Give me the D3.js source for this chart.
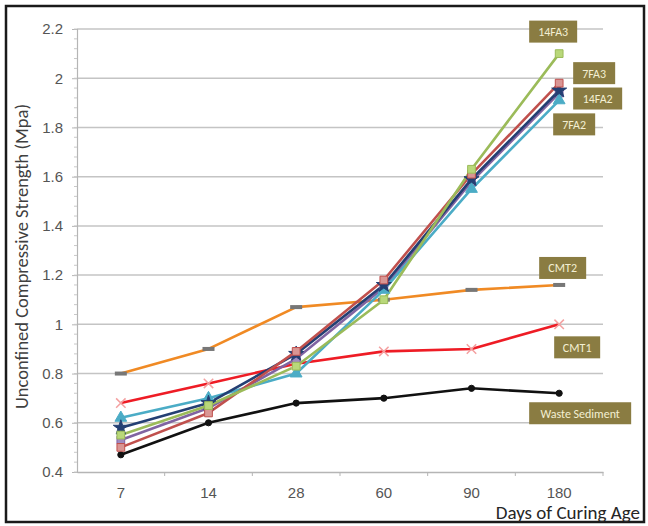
<!DOCTYPE html>
<html><head><meta charset="utf-8">
<script src="https://cdn.jsdelivr.net/npm/d3@7/dist/d3.min.js"></script>
<style>body{margin:0;background:#fff;}svg{display:block;font-family:Calibri,Carlito,"Liberation Sans",Arial,sans-serif;}</style>
</head><body><div id="chart"></div>
<script>
const days = ["7","14","28","60","90","180"];
const yTicks = [0.4,0.6,0.8,1,1.2,1.4,1.6,1.8,2,2.2];
const seriesNames = ["Waste Sediment","CMT2","CMT1","Purple","7FA2","14FA2","7FA3","14FA3"];
const wasteSediment = [0.47,0.60,0.68,0.70,0.74,0.72];
const cmt2 = [0.80,0.90,1.07,1.10,1.14,1.16];
const cmt1 = [0.68,0.76,0.84,0.89,0.90,1.00];
const fa1 = [0.53,0.66,0.86,1.15,1.58,1.94];
const fa7_2 = [0.62,0.70,0.80,1.14,1.55,1.91];
const fa14_2 = [0.58,0.68,0.88,1.16,1.59,1.95];
const fa7_3 = [0.50,0.64,0.89,1.18,1.61,1.98];
const fa14_3 = [0.55,0.67,0.83,1.10,1.63,2.10];

const W=648,H=526;
const m={left:77,right:45,top:29,bottom:54};
const svg=d3.select("#chart").append("svg").attr("width",W).attr("height",H);
svg.append("rect").attr("x",6).attr("y",6).attr("width",638).attr("height",516)
  .attr("fill","#fff").attr("stroke","#1a1a1a").attr("stroke-width",2.5);

const x=d3.scaleBand().domain(days).range([m.left,W-m.right]);
const y=d3.scaleLinear().domain([0.4,2.2]).range([H-m.bottom,m.top]);

// gridlines
svg.append("g").selectAll("line").data(yTicks.slice(1)).join("line")
  .attr("x1",m.left).attr("x2",W-m.right).attr("y1",d=>y(d)).attr("y2",d=>y(d))
  .attr("stroke","#c4c4c4").attr("stroke-width",1.5);

// y axis
const yAxis=svg.append("g").attr("transform",`translate(${m.left},0)`)
  .call(d3.axisLeft(y).tickValues(yTicks).tickFormat(d=>d3.format("")(+d.toFixed(1))).tickSize(5).tickPadding(9));
yAxis.select(".domain").attr("stroke","#b5b5b5").attr("stroke-width",1.2);
yAxis.selectAll(".tick line").attr("stroke","#b5b5b5");
yAxis.selectAll("text").attr("fill","#555").attr("font-size",15);
const minor=d3.range(0.4,2.2001,0.04);
svg.append("g").selectAll("line").data(minor).join("line")
  .attr("x1",m.left-3).attr("x2",m.left).attr("y1",d=>y(d)).attr("y2",d=>y(d))
  .attr("stroke","#c8c8c8");

// x axis
const xAxis=svg.append("g").attr("transform",`translate(0,${H-m.bottom})`)
  .call(d3.axisBottom(x).tickSize(0).tickPadding(15));
xAxis.select(".domain").attr("stroke","#b5b5b5").attr("stroke-width",1.5);
xAxis.selectAll("text").attr("fill","#555").attr("font-size",15);
svg.append("g").selectAll("line").data(days.slice(1)).join("line")
  .attr("x1",d=>x(d)).attr("x2",d=>x(d)).attr("y1",H-m.bottom).attr("y2",H-m.bottom+4)
  .attr("stroke","#b5b5b5");
svg.append("line").attr("x1",W-m.right).attr("x2",W-m.right).attr("y1",H-m.bottom).attr("y2",H-m.bottom+4).attr("stroke","#b5b5b5");

// titles
svg.append("text").attr("transform",`translate(28,${(m.top+H-m.bottom)/2+6}) rotate(-90)`)
  .attr("text-anchor","middle").attr("font-size",18.5).attr("fill","#404040")
  .text("Unconfined Compressive Strength (Mpa)");
svg.append("text").attr("x",640).attr("y",519).attr("text-anchor","end")
  .attr("font-size",19).attr("fill","#262626").text("Days of Curing Age");

const cx=d=>x(d)+x.bandwidth()/2;
const series=[
  {name:"Waste Sediment",v:wasteSediment,c:"#111",mk:"circle",mf:"#111"},
  {name:"CMT2",v:cmt2,c:"#F08A24",mk:"dash",mf:"#777"},
  {name:"CMT1",v:cmt1,c:"#EE1C25",mk:"x",mf:"#F4A0A0"},
  {name:"Purple",v:fa1,c:"#8064A2",mk:"square",mf:"#A08BC0"},
  {name:"7FA2",v:fa7_2,c:"#4BACC6",mk:"triangle",mf:"#4BACC6"},
  {name:"14FA2",v:fa14_2,c:"#243F73",mk:"star",mf:"#243F73"},
  {name:"7FA3",v:fa7_3,c:"#C0504D",mk:"square",mf:"#D99694"},
  {name:"14FA3",v:fa14_3,c:"#9BBB59",mk:"square",mf:"#B9D87A"},
];
const line=d3.line().x((d,i)=>cx(days[i])).y(d=>y(d));
const syms={circle:d3.symbolCircle,square:d3.symbolSquare,triangle:d3.symbolTriangle,star:d3.symbolStar,x:d3.symbolTimes};
series.forEach(s=>{
  svg.append("path").datum(s.v).attr("d",line).attr("fill","none")
    .attr("stroke",s.c).attr("stroke-width",2.6).attr("stroke-linejoin","round");
});
series.forEach(s=>{
  const g=svg.append("g");
  s.v.forEach((d,i)=>{
    const px=cx(days[i]),py=y(d);
    if(s.mk==="dash"){
      g.append("rect").attr("x",px-6).attr("y",py-2).attr("width",12).attr("height",4).attr("fill",s.mf);
    } else if(s.mk==="x"){
      g.append("path").attr("d",d3.symbol(syms.x,60)()).attr("transform",`translate(${px},${py})`)
        .attr("fill","none").attr("stroke",s.mf).attr("stroke-width",1.5);
    } else {
      const size=s.mk==="circle"?30:s.mk==="star"?70:60;
      g.append("path").attr("d",d3.symbol(syms[s.mk],size)()).attr("transform",`translate(${px},${py})`)
        .attr("fill",s.mf).attr("stroke",s.c).attr("stroke-width",1);
    }
  });
});

// data labels (top-left offsets from last point)
const labelLayout={
  "14FA3":{dx:-30,dy:-33,w:48},
  "7FA3":{dx:14,dy:-21,w:42},
  "14FA2":{dx:14,dy:-3,w:49},
  "7FA2":{dx:-6,dy:13,w:42},
  "CMT2":{dx:-20,dy:-28,w:47},
  "CMT1":{dx:-5,dy:12,w:46},
  "Waste Sediment":{dx:-30,dy:9,w:102}
};
series.forEach(s=>{
  const L=labelLayout[s.name]; if(!L) return;
  const px=cx(days[5]),py=y(s.v[5]);
  const g=svg.append("g").attr("transform",`translate(${px+L.dx},${py+L.dy})`);
  g.append("rect").attr("width",L.w).attr("height",22).attr("fill","#8A7C42");
  g.append("text").attr("x",L.w/2).attr("y",15.5).attr("text-anchor","middle")
    .attr("font-size",12).attr("fill","#F3EFD2").text(s.name);
});
</script></body></html>
